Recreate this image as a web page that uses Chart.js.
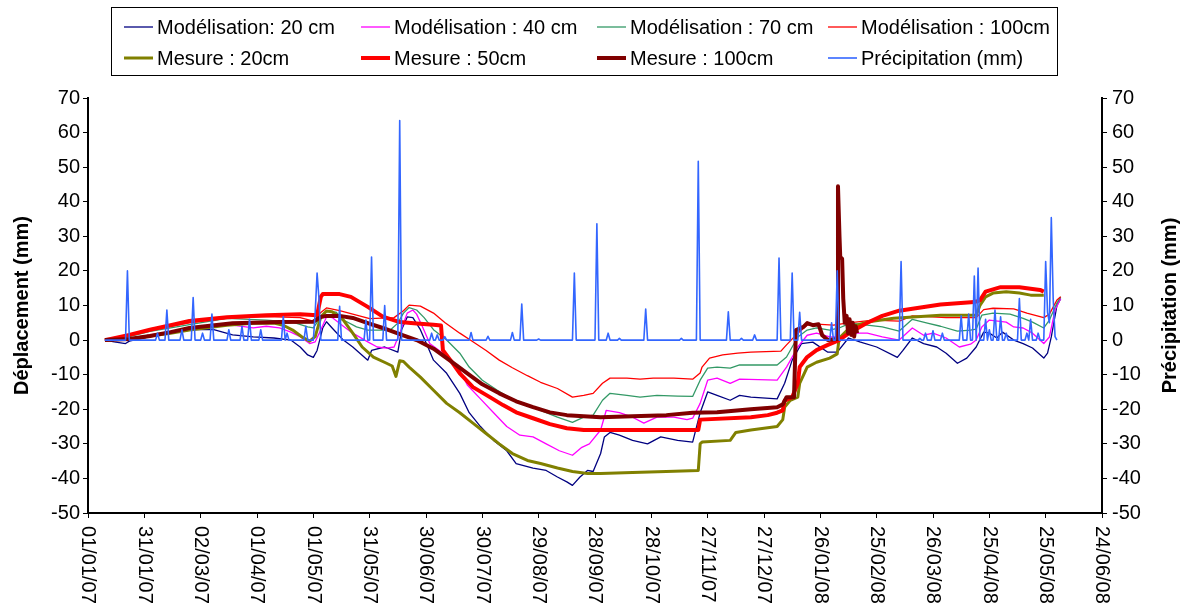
<!DOCTYPE html>
<html><head><meta charset="utf-8">
<script src="https://cdn.jsdelivr.net/npm/chart.js@4.4.1/dist/chart.umd.min.js"></script>
<style>html,body{margin:0;padding:0;background:#fff;}canvas{display:block;}</style>
</head><body>
<canvas id="c" width="1184" height="607"></canvas>
<script>
// ---------- data ----------
const xTickLabels = ['01/01/07','31/01/07','02/03/07','01/04/07','01/05/07','31/05/07','30/06/07','30/07/07','29/08/07','28/09/07','28/10/07','27/11/07','27/12/07','26/01/08','25/02/08','26/03/08','25/04/08','25/05/08','24/06/08'];
const yTickLabels = ['-50','-40','-30','-20','-10','0','10','20','30','40','50','60','70'];
const seriesNames = ['Modélisation: 20 cm','Modélisation : 40 cm','Modélisation : 70 cm','Modélisation : 100cm','Mesure : 20cm','Mesure : 50cm','Mesure : 100cm','Précipitation (mm)'];
// [day since 01/01/07, value in mm]
const mod20 = [[9,0],[14,-0.5],[20,-1],[22,-0.3],[33,1],[44,2],[56,3],[67,3],[77,1.5],[88,0.9],[99,0.6],[108,0],[113,-2],[117,-4.3],[120,-5],[122,-3],[125,3.5],[127,5.3],[130,3.5],[136,0],[141,-2],[149,-5.8],[151,-3],[158,-2],[165,-3.5],[167,3],[170,6.7],[173,6.5],[177,3],[181,-2],[184,-5.8],[191,-9.6],[198,-15.4],[203,-21],[209,-25],[216,-29],[223,-32],[228,-35.7],[237,-37],[244,-37.7],[250,-39.6],[255,-41],[258,-42],[262,-39.6],[266,-37.7],[269,-38],[273,-32.8],[275,-28],[278,-26.7],[283,-27.5],[290,-29],[298,-30],[305,-28],[314,-29],[322,-29.5],[326,-21],[330,-15],[335,-16],[342,-17.4],[347,-16],[353,-16.5],[367,-17],[371,-12.5],[375,-5.8],[380,-1],[386,-0.6],[394,-3.5],[399,-3.5],[405,0.6],[411,-0.5],[420,-2],[431,-5],[434,-3],[439,0.6],[445,-1],[452,-2],[457,-3.8],[463,-6.7],[468,-5.2],[473,-2],[477,2.3],[480,2],[484,0.6],[487,2.3],[493,0],[498,-1],[503,-2.3],[509,-5.2],[511,-3.8],[513,0.9],[516,10],[518,12]];
const mod40 = [[9,0],[22,0.5],[33,1.5],[44,2.5],[54,3.5],[67,4],[77,4.3],[88,3.5],[95,4],[102,3.5],[108,2.3],[113,1],[118,-1],[121,-0.5],[124,3],[127,6.7],[130,6.5],[136,4],[141,2],[149,-0.5],[154,-2],[159,-2.3],[163,-2],[166,2],[170,7.8],[173,8.7],[175,7.5],[178,4],[182,-1],[189,-3.8],[197,-7.8],[202,-13],[209,-17],[216,-21],[223,-25],[230,-27.5],[237,-28],[244,-30],[251,-32],[258,-33.3],[263,-31],[267,-30],[273,-26],[276,-20.3],[283,-21],[290,-22.3],[296,-24],[303,-22.3],[312,-22.3],[319,-23],[322,-22.6],[326,-18.3],[330,-11.6],[335,-11],[342,-12.5],[347,-11.3],[367,-11.6],[372,-7.8],[378,-2],[383,1.4],[388,2],[395,0.9],[400,0.9],[404,2],[415,2],[423,0.9],[432,0],[439,3.5],[445,1.4],[450,2],[457,0.6],[464,-2],[470,-1.2],[473,0],[476,3.8],[480,5.8],[489,5.2],[493,3.8],[498,3.5],[503,2],[509,-1],[512,0.9],[515,8.7],[518,12]];
const mod70 = [[9,0],[22,1],[33,2.5],[44,3.5],[54,4.5],[74,6.3],[95,5.8],[109,5.2],[117,3.8],[120,3.5],[124,6.7],[127,8.3],[132,8.1],[136,5.8],[143,3.8],[149,2.9],[161,2.9],[165,4.9],[168,7.8],[171,9.4],[175,8.7],[179,6.5],[184,3],[191,0],[198,-3.8],[203,-7.8],[210,-11.6],[218,-14.5],[225,-16.8],[232,-18.3],[241,-20.3],[250,-22.3],[258,-23.8],[264,-22.3],[269,-21.7],[274,-17.4],[278,-15.4],[287,-16],[294,-16.5],[303,-16],[314,-16.2],[322,-16.3],[326,-11.6],[330,-8.1],[335,-7.8],[342,-8.1],[347,-7.2],[367,-7.2],[372,-4.9],[378,0.9],[383,2.9],[388,3.5],[395,2.9],[400,3.5],[406,4.9],[415,4.3],[423,3.8],[432,2.6],[439,6],[447,4.9],[454,4],[463,2.6],[470,2.9],[473,3.2],[476,7.2],[482,7.8],[491,7.5],[498,6.3],[503,5.2],[509,3.5],[512,5.8],[516,10.7],[518,12.5]];
const mod100 = [[9,0],[22,1.5],[33,3],[44,4],[54,5],[74,6.3],[95,6.8],[113,6.5],[120,5.5],[124,8],[127,9.3],[134,8.5],[150,6.2],[163,6.5],[168,8.5],[171,10.1],[177,9.8],[184,7.8],[190,5.1],[198,2],[205,-0.5],[212,-3],[219,-5.8],[226,-8],[234,-10.3],[241,-12.2],[250,-14],[258,-16.5],[264,-16],[269,-15.4],[274,-12.5],[278,-11],[287,-11],[294,-11.3],[301,-11],[312,-11],[322,-11.3],[326,-9.5],[327,-7.8],[331,-5.2],[338,-4.3],[346,-3.8],[353,-3.5],[369,-3.2],[372,-1.4],[378,2],[383,4.3],[388,4.6],[397,4.3],[404,4.9],[418,5.8],[432,5.5],[439,7],[447,6.8],[457,6.5],[473,6.5],[477,8.8],[482,9.2],[493,9],[500,7.8],[509,6.5],[512,7.5],[516,11.6],[518,12.5]];
const mes20 = [[9,0],[22,0.3],[33,1.2],[44,2],[54,2.9],[74,4.3],[88,4.9],[99,4.9],[104,4.3],[109,2.9],[114,0.9],[118,-0.3],[121,1],[124,6.7],[127,8.4],[130,8.2],[136,5.8],[141,2],[146,-2],[152,-4.9],[159,-6.7],[162,-7.5],[164,-10.5],[166,-6],[168,-6.2],[171,-7.8],[177,-10.7],[184,-14.5],[191,-18.3],[198,-21],[205,-24],[212,-27],[219,-30],[226,-32.8],[234,-34.8],[241,-35.7],[250,-37],[258,-38],[266,-38.6],[273,-38.6],[290,-38.3],[308,-38],[325,-37.7],[326,-30],[327,-29.5],[342,-29],[345,-26.7],[353,-26],[367,-25],[370,-23],[371,-19.4],[374,-17.4],[378,-16.5],[379,-12.5],[383,-7.8],[388,-6.4],[395,-5.2],[399,-4],[400,0.5],[406,3.8],[415,5.2],[429,6.3],[454,7.2],[473,7.2],[475,10],[478,12.5],[482,13.6],[489,14],[496,13.6],[502,13],[509,13]];
const mes50 = [[9,0],[22,1.5],[33,3],[44,4.3],[54,5.5],[74,6.6],[95,7.2],[113,7.5],[122,7.2],[124,12.5],[125,13.3],[134,13.3],[140,12.5],[149,9.6],[157,6.8],[166,5.2],[175,4.8],[184,4.4],[188,4.2],[189,-2.9],[193,-5.8],[198,-9.6],[205,-13.6],[214,-16.5],[221,-18.8],[228,-20.9],[237,-22.6],[246,-24.3],[255,-25.5],[264,-26],[325,-26],[326,-23],[353,-22.3],[362,-21.7],[367,-21],[370,-20.3],[371,-17.5],[375,-16.5],[378,-12.5],[379,-7.8],[383,-4.9],[388,-2.9],[394,-1.4],[400,0],[406,2.3],[415,5],[423,7],[432,8.5],[454,10.3],[472,11],[475,11.5],[478,14],[486,15.3],[496,15.3],[507,14.5],[509,14]];
const mes100 = [[9,0],[22,0.3],[33,1.2],[44,2.3],[54,3.5],[77,4.9],[102,5.2],[120,5.3],[124,6.7],[127,7],[134,7],[141,6.4],[149,4.9],[157,3.5],[166,1.7],[175,0],[184,-2.5],[193,-6],[202,-9.6],[210,-12.8],[219,-15.4],[228,-17.7],[237,-19.4],[246,-20.9],[255,-21.7],[264,-22],[273,-22.3],[290,-22],[308,-21.7],[322,-21],[335,-20.9],[353,-20],[367,-19.4],[370,-18.6],[372,-16.5],[376,-16.5],[377,2.9],[381,3.8],[383,4.9],[386,4.3],[389,4.6],[391,1.4],[394,0],[399,0.3],[399.4,44.5],[400.2,30],[400.6,24],[401.6,23.5],[402.2,12],[403,5],[404,7],[404.8,2],[405.6,6],[406.4,1.5],[407.2,5],[408,1],[408.8,4],[409.6,2]];
// daily rainfall: days not listed had 0 mm
const precipFirstDay = 9, precipLastDay = 516;
const precipRain = [[21,20],[37,2],[42,8.7],[50,3],[56,12.3],[61,2],[66,7.5],[75,3],[82,4],[86,6],[92,3],[104,6.8],[106,2],[116,4],[121,8],[122,19.4],[123,12],[134,9.8],[148,5.8],[151,24],[158,10],[166,63.5],[183,2],[186,1.5],[190,1],[204,2.2],[213,1.1],[226,2.2],[231,10.4],[240,0.3],[259,19.4],[271,33.6],[277,2],[283,0.5],[297,9],[316,0.5],[325,51.7],[341,8.2],[348,0.5],[355,1.5],[368,23.7],[375,19.4],[379,8],[396,5],[399,20],[433,22.7],[443,0.5],[446,2],[450,2.7],[455,2],[465,7],[469,7.5],[472,18.5],[474,20.8],[478,6],[480,3],[483,8.7],[486,6.7],[489,2],[496,12],[500,2],[502,6],[506,2],[510,22.7],[511,8],[512,5],[513,35.4],[514,12],[515,1]];

// ---------- build ----------
const toXY = arr => arr.map(p => ({x: p[0], y: p[1]}));
const rainMap = new Map(precipRain);
const precipXY = [];
for (let d = precipFirstDay; d <= precipLastDay; d++) precipXY.push({x: d, y: rainMap.has(d) ? rainMap.get(d) : 0});

const colors = ['#000080','#FF00FF','#339966','#FF0000','#808000','#FF0000','#800000','#3366FF'];
const widths = [1.3,1.3,1.3,1.3,3,4,4,1.6];
const allData = [toXY(mod20), toXY(mod40), toXY(mod70), toXY(mod100), toXY(mes20), toXY(mes50), toXY(mes100), precipXY];

const datasets = allData.map((d, i) => ({
  label: seriesNames[i],
  data: d,
  borderColor: colors[i],
  backgroundColor: colors[i],
  borderWidth: widths[i],
  pointRadius: 0,
  tension: 0,
  fill: false,
  borderJoinStyle: 'round',
  yAxisID: i === 7 ? 'y2' : 'y',
  order: 7 - i
}));

const FONT = '"Liberation Sans", Arial, sans-serif';
const textPlugin = {
  id: 'textPlugin',
  afterDraw(chart) {
    const ctx = chart.ctx;
    const xs = chart.scales.x, ys = chart.scales.y, ys2 = chart.scales.y2;
    ctx.save();
    ctx.fillStyle = '#000';
    ctx.font = '20px ' + FONT;
    ctx.textBaseline = 'middle';
    ctx.textAlign = 'right';
    ys.ticks.forEach((t, i) => ctx.fillText(yTickLabels[i], ys.right - 8, ys.getPixelForValue(t.value)));
    ctx.textAlign = 'left';
    ys2.ticks.forEach((t, i) => ctx.fillText(yTickLabels[i], ys2.left + 10, ys2.getPixelForValue(t.value)));
    xs.ticks.forEach((t, i) => {
      ctx.save();
      ctx.translate(xs.getPixelForValue(t.value), xs.bottom + 8);
      ctx.rotate(Math.PI / 2);
      ctx.textAlign = 'left';
      ctx.fillText(xTickLabels[i], 0, 0);
      ctx.restore();
    });
    // axis titles
    const cy = (chart.chartArea.top + chart.chartArea.bottom) / 2;
    ctx.font = 'bold 20px ' + FONT;
    ctx.textAlign = 'center';
    [[22, 'Déplacement (mm)'], [1170, 'Précipitation (mm)']].forEach(([tx, s]) => {
      ctx.save(); ctx.translate(tx, cy); ctx.rotate(-Math.PI / 2); ctx.fillText(s, 0, 0); ctx.restore();
    });
    // legend
    ctx.strokeStyle = '#000';
    ctx.lineWidth = 1;
    ctx.strokeRect(111.5, 7.5, 946, 68);
    const colX = [124, 361, 597, 828];
    const rowY = [27, 58];
    ctx.font = '20px ' + FONT;
    ctx.textAlign = 'left';
    chart.data.datasets.forEach((ds, i) => {
      const r = Math.floor(i / 4), c = i % 4;
      const x0 = colX[c], y0 = rowY[r];
      ctx.strokeStyle = ds.borderColor;
      ctx.lineWidth = ds.borderWidth;
      ctx.beginPath(); ctx.moveTo(x0, y0); ctx.lineTo(x0 + 29, y0); ctx.stroke();
      ctx.fillStyle = '#000';
      ctx.fillText(ds.label, x0 + 33, y0 + 1);
    });
    ctx.restore();
  }
};

const axisCommon = {
  grid: {display: true, drawOnChartArea: false, drawTicks: true, tickLength: 5, color: '#000', lineWidth: 1},
  border: {display: true, color: '#000', width: 2}
};

new Chart(document.getElementById('c'), {
  type: 'line',
  data: {datasets},
  options: {
    responsive: false,
    animation: false,
    parsing: true,
    layout: {padding: {left: 83, right: 77, top: 98, bottom: 89}},
    plugins: {legend: {display: false}, tooltip: {enabled: false}, title: {display: false}},
    scales: {
      x: Object.assign({type: 'linear', min: 0, max: 540, ticks: {display: false, stepSize: 30}}, axisCommon),
      y: Object.assign({type: 'linear', position: 'left', min: -50, max: 70, ticks: {display: false, stepSize: 10}}, axisCommon),
      y2: Object.assign({type: 'linear', position: 'right', min: -50, max: 70, ticks: {display: false, stepSize: 10}}, axisCommon)
    }
  },
  plugins: [textPlugin]
});
</script>
</body></html>
